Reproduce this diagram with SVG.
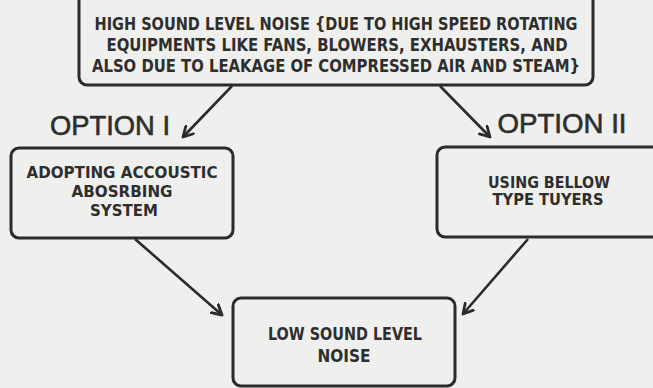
<svg xmlns="http://www.w3.org/2000/svg" width="653" height="388" viewBox="0 0 653 388">
<defs>
<style>
.box{fill:none;stroke:#2b2b2b;stroke-width:3}
.t{font-family:"Liberation Sans Narrow","DejaVu Sans Condensed","Liberation Sans",sans-serif;font-weight:bold;fill:#2e2e2e;text-anchor:middle}
.opt{font-family:"Liberation Sans","DejaVu Sans",sans-serif;font-size:27px;fill:#2e2e2e;stroke:#2e2e2e;stroke-width:0.6;text-anchor:middle}
.con{fill:none;stroke:#2b2b2b;stroke-width:2.6}
</style>
<marker id="ah" viewBox="0 0 12 12" refX="10" refY="6" markerWidth="13" markerHeight="13" markerUnits="userSpaceOnUse" orient="auto">
<path d="M1,1 L10,6 L1,11" fill="none" stroke="#2b2b2b" stroke-width="2.6" stroke-linecap="round" stroke-linejoin="round"/>
</marker>
</defs>
<rect width="653" height="388" fill="#efefed"/>
<g id="connectors">
<line class="con" x1="232" y1="86" x2="183" y2="137" marker-end="url(#ah)"/>
<line class="con" x1="440" y1="86" x2="490" y2="137" marker-end="url(#ah)"/>
<line class="con" x1="135" y1="239" x2="222" y2="315" marker-end="url(#ah)"/>
<line class="con" x1="528" y1="239" x2="463" y2="314" marker-end="url(#ah)"/>
</g>
<g id="top">
<rect class="box" x="79" y="-10" width="514" height="95" rx="8"/>
<text class="t" font-size="18.5" x="336" y="30" textLength="483" lengthAdjust="spacingAndGlyphs">HIGH SOUND LEVEL NOISE {DUE TO HIGH SPEED ROTATING</text>
<text class="t" font-size="18.5" x="337" y="50.5" textLength="461" lengthAdjust="spacingAndGlyphs">EQUIPMENTS LIKE FANS, BLOWERS, EXHAUSTERS, AND</text>
<text class="t" font-size="18.5" x="336" y="71.5" textLength="488" lengthAdjust="spacingAndGlyphs">ALSO DUE TO LEAKAGE OF COMPRESSED AIR AND STEAM}</text>
</g>
<g id="option1">
<text class="opt" x="110" y="135" textLength="120" lengthAdjust="spacingAndGlyphs">OPTION I</text>
</g>
<g id="option2">
<text class="opt" x="562" y="133" textLength="129" lengthAdjust="spacingAndGlyphs">OPTION II</text>
</g>
<g id="left">
<rect class="box" x="11" y="148" width="222" height="90" rx="8"/>
<text class="t" font-size="16.5" x="122" y="178" textLength="191" lengthAdjust="spacingAndGlyphs">ADOPTING ACCOUSTIC</text>
<text class="t" font-size="16.5" x="122" y="197" textLength="101" lengthAdjust="spacingAndGlyphs">ABOSRBING</text>
<text class="t" font-size="16.5" x="124" y="215.5" textLength="68" lengthAdjust="spacingAndGlyphs">SYSTEM</text>
</g>
<g id="right">
<rect class="box" x="437" y="147" width="230" height="90" rx="8"/>
<text class="t" font-size="15.5" x="549" y="187.5" textLength="122" lengthAdjust="spacingAndGlyphs">USING BELLOW</text>
<text class="t" font-size="15.5" x="548" y="205" textLength="111" lengthAdjust="spacingAndGlyphs">TYPE TUYERS</text>
</g>
<g id="bottom">
<rect class="box" x="233" y="298" width="222" height="88" rx="8"/>
<text class="t" font-size="17" x="345" y="340" textLength="154" lengthAdjust="spacingAndGlyphs">LOW SOUND LEVEL</text>
<text class="t" font-size="17" x="344" y="362" textLength="53" lengthAdjust="spacingAndGlyphs">NOISE</text>
</g>
</svg>
